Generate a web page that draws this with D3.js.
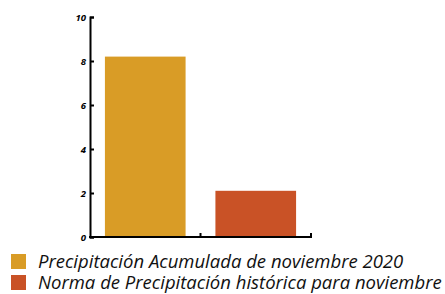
<!DOCTYPE html>
<html>
<head>
<meta charset="utf-8">
<script src="https://cdn.jsdelivr.net/npm/d3@7"></script>
<style>
  body { margin: 0; background: #fff; }
  svg { display: block; }
</style>
</head>
<body>
<div id="chart"></div>
<script>
var categories = ["Precipitación Acumulada de noviembre 2020", "Norma de Precipitación histórica para noviembre"];
var values = [8.2, 2.1];
var colors = ["#d99c26", "#c95226"];
var yTicks = [0, 2, 4, 6, 8, 10];

var width = 445, height = 294;

var svg = d3.select('#chart')
    .append('svg')
    .attr('width', width)
    .attr('height', height);

var x = d3.scaleBand()
    .domain(categories)
    .range([90, 311])
    .paddingInner(0.27)
    .paddingOuter(0.135);

var y = d3.scaleLinear()
    .domain([0, 10])
    .range([237, 17]);

// bars
svg.selectAll('rect.bar')
    .data(values)
    .enter()
    .append('rect')
    .attr('class', 'bar')
    .attr('x', function(d, i) { return x(categories[i]); })
    .attr('y', function(d) { return y(d); })
    .attr('width', x.bandwidth())
    .attr('height', function(d) { return y(0) - y(d); })
    .attr('fill', function(d, i) { return colors[i]; });

// y axis
var yAxis = svg.append('g')
    .attr('transform', 'translate(90,0)')
    .call(d3.axisLeft(y).tickValues(yTicks).tickSize(-4).tickPadding(4));
yAxis.select('.domain').attr('stroke', '#000').attr('stroke-width', 2);
yAxis.selectAll('.tick line').attr('stroke', '#000').attr('stroke-width', 2);
yAxis.selectAll('.tick text')
    .attr('font-family', 'Open Sans, sans-serif')
    .attr('font-size', 9.5)
    .attr('font-weight', 'bold')
    .attr('font-style', 'italic')
    .attr('fill', '#000');

// x axis: ticks at band boundaries
var boundaries = [90 + (311 - 90) / 2, 311];
var xAxisG = svg.append('g');
xAxisG.append('line')
    .attr('x1', 89).attr('x2', 312)
    .attr('y1', y(0)).attr('y2', y(0))
    .attr('stroke', '#000').attr('stroke-width', 2);
xAxisG.selectAll('line.xt')
    .data(boundaries)
    .enter()
    .append('line')
    .attr('class', 'xt')
    .attr('x1', function(d) { return d; })
    .attr('x2', function(d) { return d; })
    .attr('y1', y(0))
    .attr('y2', y(0) - 4)
    .attr('stroke', '#000').attr('stroke-width', 2);

// legend
var legend = svg.selectAll('g.legend')
    .data(categories)
    .enter()
    .append('g')
    .attr('class', 'legend')
    .attr('transform', function(d, i) { return 'translate(11,' + (254 + i * 21) + ')'; });
legend.append('rect')
    .attr('width', 15)
    .attr('height', 15)
    .attr('fill', function(d, i) { return colors[i]; });
legend.append('text')
    .attr('x', 27)
    .attr('y', 14)
    .attr('font-family', 'Open Sans, sans-serif')
    .attr('font-size', 18.5)
    .attr('font-style', 'italic')
    .attr('fill', '#111')
    .text(function(d) { return d; });
</script>
</body>
</html>
